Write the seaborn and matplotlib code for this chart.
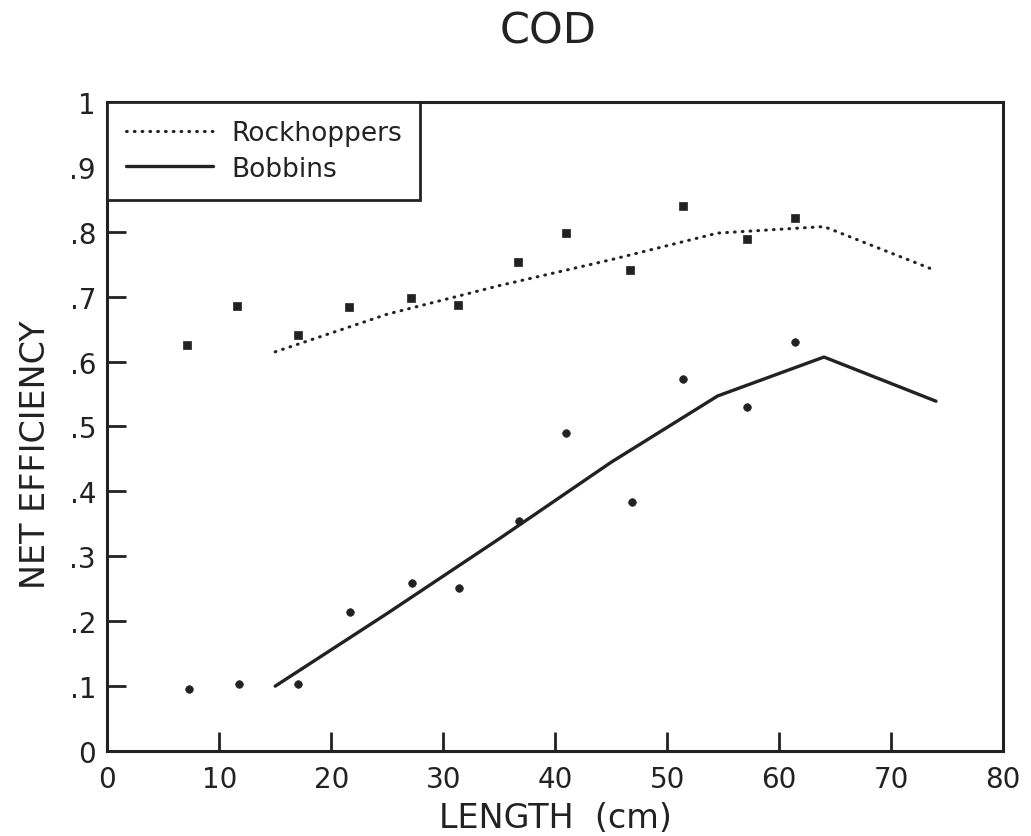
import matplotlib
matplotlib.use("Agg")
import matplotlib.pyplot as plt
import seaborn as sns
import pandas as pd

# Observed net efficiency by length class
obs_length = [7.1, 11.6, 17.0, 21.6, 27.1, 31.3, 36.7, 41.0, 46.7, 51.4, 57.1, 61.4]
rock_obs = [0.625, 0.686, 0.641, 0.684, 0.698, 0.687, 0.753, 0.798, 0.741, 0.840, 0.789, 0.821]
bobb_length = [7.3, 11.8, 17.0, 21.7, 27.2, 31.4, 36.8, 41.0, 46.9, 51.4, 57.1, 61.4]
bobb_obs = [0.096, 0.104, 0.104, 0.214, 0.259, 0.251, 0.355, 0.490, 0.383, 0.573, 0.530, 0.630]

# Fitted curves
fit_length = [15, 25, 35, 45, 54.5, 64, 74]
rock_fit = [0.615, 0.673, 0.717, 0.757, 0.798, 0.808, 0.740]
bobb_fit = [0.100, 0.212, 0.327, 0.445, 0.547, 0.607, 0.539]

x_ticks = [0, 10, 20, 30, 40, 50, 60, 70, 80]
y_ticks = [0, 0.1, 0.2, 0.3, 0.4, 0.5, 0.6, 0.7, 0.8, 0.9, 1.0]
y_tick_labels = ["0", ".1", ".2", ".3", ".4", ".5", ".6", ".7", ".8", ".9", "1"]

sns.set_style("white")
plt.rcParams["font.family"] = ["DejaVu Sans"]

ink = "#222222"
fig = plt.figure(figsize=(10.31, 8.37), dpi=100)
ax = fig.add_axes([0.104, 0.1015, 0.869, 0.7755])

fits = pd.DataFrame({"length": fit_length, "rock": rock_fit, "bobb": bobb_fit})
sns.lineplot(data=fits, x="length", y="rock", ax=ax, color=ink, lw=2.2,
             linestyle=(0, (0.25, 2.3)), dash_capstyle="round", label="Rockhoppers")
sns.lineplot(data=fits, x="length", y="bobb", ax=ax, color=ink, lw=2.4,
             label="Bobbins")

sns.scatterplot(x=obs_length, y=rock_obs, ax=ax, marker="s", s=30, color=ink,
                edgecolor=ink, linewidth=0.5, legend=False)
sns.scatterplot(x=bobb_length, y=bobb_obs, ax=ax, marker="o", s=30, color=ink,
                edgecolor=ink, linewidth=0.5, legend=False)

ax.set_xlim(0, 80)
ax.set_ylim(0, 1)
ax.set_xticks(x_ticks)
ax.set_yticks(y_ticks)
ax.set_yticklabels(y_tick_labels)
ax.tick_params(direction="in", length=14, width=2, colors=ink, labelsize=20,
               pad=8, top=False, right=False, bottom=True, left=True)
ax.tick_params(axis="x", pad=10)
for s in ax.spines.values():
    s.set_color(ink)
    s.set_linewidth(2.2)

ax.set_xlabel("LENGTH  (cm)", fontsize=24, color=ink, labelpad=6)
ax.set_ylabel("NET EFFICIENCY", fontsize=24, color=ink)
ax.yaxis.set_label_coords(-0.062, 0.458)
fig.text(0.532, 0.962, "COD", ha="center", va="center", fontsize=31, color=ink)

leg = ax.legend(loc="upper left", bbox_to_anchor=(0, 1), fontsize=19,
                frameon=True, fancybox=False, framealpha=1, borderaxespad=0,
                handlelength=3.3, handletextpad=0.7, borderpad=0.7,
                labelspacing=0.35)
leg.get_frame().set_edgecolor(ink)
leg.get_frame().set_linewidth(2)
leg.set_zorder(5)
for t in leg.get_texts():
    t.set_color(ink)

fig.savefig("out.png", dpi=100, facecolor="white")
